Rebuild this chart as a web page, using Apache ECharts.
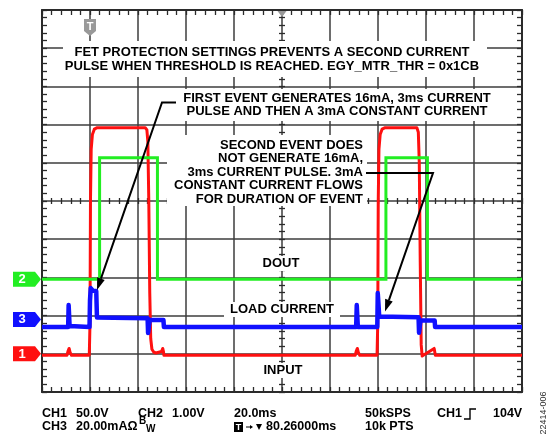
<!DOCTYPE html>
<html>
<head>
<meta charset="utf-8">
<script src="https://cdn.jsdelivr.net/npm/echarts@6/dist/echarts.min.js"></script>
<style>
  html, body { margin: 0; padding: 0; background: #fff; }
  #scope { width: 553px; height: 440px; }
</style>
</head>
<body>
<div id="scope"></div>
<script>
// Scope channel scales: units per division and ground-marker position (divisions from bottom)
const ch1Scale = { perDiv: 50, zeroDiv: 1.0 };   // INPUT, volts
const ch2Scale = { perDiv: 1, zeroDiv: 2.95 };   // DOUT, volts
const ch3Scale = { perDiv: 20, zeroDiv: 1.9 };   // LOAD CURRENT, mA

// Horizontal: 20 ms/div over 10 divisions
const timeRange = [0, 200];
const timePerDiv = 20;
const triggerTime = 20;      // CH1 rising edge
const centerTime = 100;      // trigger offset reference

// CH1 INPUT trace [ms, V]
const inputTrace = [
  [0, -2], [10.4, -2], [10.9, 4], [11.3, 7], [11.7, 2], [12.3, -2],
  [19.7, -2], [20.0, 40], [20.2, 200], [20.5, 268], [21.0, 287], [21.8, 294], [23, 296],
  [43.0, 296], [43.7, 293], [44.1, 278], [44.5, 200], [44.9, 80], [45.3, 20], [45.8, 6],
  [46.6, 2], [47.5, 1], [49.8, 3], [50.3, 7], [50.6, 3], [50.8, -2],
  [130.5, -2], [131.0, 4], [131.4, 7], [131.8, 2], [132.4, -2],
  [139.6, -2], [139.9, 40], [140.1, 200], [140.4, 268], [140.9, 287], [141.7, 294], [143, 296],
  [156.2, 296], [156.8, 290], [157.2, 250], [157.6, 120], [158.0, 12], [158.4, -3],
  [163.4, 7], [163.7, 8], [163.9, -2], [200, -2]
];

// CH2 DOUT trace [ms, V]
const doutTrace = [
  [0, 0], [24.0, 0], [24.0, 3.18], [48.1, 3.18], [48.1, 0],
  [143.3, 0], [143.3, 3.18], [160.6, 3.18], [160.6, 0], [200, 0]
];

// CH3 LOAD CURRENT trace [ms, mA]
const loadTrace = [
  [0, -4], [10.9, -4], [11.1, 7.5], [11.35, 7.5], [11.5, -3.5], [11.8, -4],
  [19.8, -4], [20.0, 10], [20.3, 16.4], [20.9, 16.0], [21.2, 15], [22.6, 14.9], [22.9, 1],
  [44.0, 0.6], [44.2, -7.1], [44.6, -7], [44.9, -0.3], [50.6, -0.3], [50.8, -4],
  [130.9, -4], [131.15, 7.5], [131.4, 7.5], [131.6, -4],
  [139.7, -4], [139.9, 13.8], [140.2, 8], [140.5, 1.5], [141.0, 1.1],
  [156.9, 1.1], [157.1, -7], [157.5, -6], [157.7, -0.5], [163.6, -0.5], [163.8, -4], [200, -4]
];

// Readout text
const readoutRow1 = [
  { x: 42, text: 'CH1' }, { x: 76, text: '50.0V' },
  { x: 138, text: 'CH2' }, { x: 172, text: '1.00V' },
  { x: 234, text: '20.0ms' }, { x: 365, text: '50kSPS' },
  { x: 437, text: 'CH1' }, { x: 493, text: '104V' }
];
const readoutRow2 = [
  { x: 42, text: 'CH3' }, { x: 76, text: '20.00mAΩ' },
  { x: 266, text: '80.26000ms' }, { x: 365, text: '10k PTS' }
];

const FONT = 'Liberation Sans, Arial, Helvetica, sans-serif';
const FRAME = '#2b2b2b';
const GRIDLINE = '#3c3c3c';
const RED = '#ff1010';
const GREEN = '#22ee22';
const BLUE = '#1010ff';

function chAxis(scale) {
  return {
    type: 'value', show: false,
    min: -scale.zeroDiv * scale.perDiv,
    max: (10 - scale.zeroDiv) * scale.perDiv
  };
}

function tickAxis(extra) {
  return Object.assign({
    type: 'value',
    axisLabel: { show: false },
    axisLine: { show: false },
    splitLine: { show: false },
    axisTick: { show: true, inside: true, length: 3, lineStyle: { color: FRAME, width: 1.3 } },
    minorTick: { show: true, splitNumber: 5, length: 3, lineStyle: { color: FRAME, width: 1.3 } }
  }, extra);
}

function frameAxis(extra) {
  return Object.assign({
    type: 'value',
    axisLabel: { show: false },
    axisLine: { show: true, onZero: false, lineStyle: { color: FRAME, width: 2 } },
    splitLine: { show: false },
    axisTick: { show: true, inside: true, length: 5, lineStyle: { color: FRAME, width: 1.3 } },
    minorTick: { show: true, splitNumber: 5, length: 5, lineStyle: { color: FRAME, width: 1.3 } }
  }, extra);
}

const chart = echarts.init(document.getElementById('scope'), null, { renderer: 'canvas' });

chart.setOption({
  animation: false,
  backgroundColor: '#fff',
  grid: { left: 42, top: 10, width: 480, height: 382, containLabel: false },
  xAxis: [
    frameAxis({ position: 'bottom', min: timeRange[0], max: timeRange[1], interval: timePerDiv,
      splitLine: { show: true, lineStyle: { color: GRIDLINE, width: 1.5 } } }),
    frameAxis({ position: 'top', min: timeRange[0], max: timeRange[1], interval: timePerDiv }),
    tickAxis({ position: 'bottom', offset: -191, min: timeRange[0], max: timeRange[1], interval: timePerDiv }),
    tickAxis({ position: 'bottom', offset: -191, min: timeRange[0], max: timeRange[1], interval: timePerDiv,
      axisTick: { show: true, inside: false, length: 3, lineStyle: { color: FRAME, width: 1.3 } } })
  ],
  yAxis: [
    frameAxis({ position: 'left', min: 0, max: 10, interval: 1,
      splitLine: { show: true, lineStyle: { color: GRIDLINE, width: 1.5 } } }),
    frameAxis({ position: 'right', min: 0, max: 10, interval: 1 }),
    tickAxis({ position: 'left', offset: -240, min: 0, max: 10, interval: 1 }),
    tickAxis({ position: 'left', offset: -240, min: 0, max: 10, interval: 1,
      axisTick: { show: true, inside: false, length: 3, lineStyle: { color: FRAME, width: 1.3 } } }),
    chAxis(ch1Scale),
    chAxis(ch2Scale),
    chAxis(ch3Scale)
  ],
  series: [
    { name: 'CH1', type: 'line', xAxisIndex: 0, yAxisIndex: 4, data: inputTrace,
      showSymbol: false, z: 3, lineStyle: { color: RED, width: 3, join: 'round' } },
    { name: 'CH2', type: 'line', xAxisIndex: 0, yAxisIndex: 5, data: doutTrace,
      showSymbol: false, z: 4, lineStyle: { color: GREEN, width: 3, join: 'miter' } },
    { name: 'CH3', type: 'line', xAxisIndex: 0, yAxisIndex: 6, data: loadTrace,
      showSymbol: false, z: 5, lineStyle: { color: BLUE, width: 4.5, join: 'round' } }
  ]
});

// ---- overlay: annotations, channel markers, readout ----
const px = (xi, v) => chart.convertToPixel({ xAxisIndex: xi }, v);
const py = (yi, v) => chart.convertToPixel({ yAxisIndex: yi }, v);

function txt(x, y, text, size, align, color, extra) {
  return Object.assign({
    type: 'text', x: x, y: y, z: 60,
    style: { text: text, font: 'bold ' + size + 'px ' + FONT, fill: color || '#000',
             align: align || 'left', verticalAlign: 'middle' }
  }, extra || {});
}
function box(x, y, w, h) {
  return { type: 'rect', z: 55, shape: { x: x, y: y, width: w, height: h }, style: { fill: '#fff' } };
}
function leader(pts) {
  const n = pts.length;
  const tx = pts[n - 1][0], ty = pts[n - 1][1];
  const dx = pts[n - 2][0] - tx, dy = pts[n - 2][1] - ty;
  const L = Math.hypot(dx, dy), ux = dx / L, uy = dy / L;
  const len = 12, hw = 4;
  const bx = tx + ux * len, by = ty + uy * len;
  return [
    { type: 'polyline', z: 62, shape: { points: pts.slice(0, n - 1).concat([[bx, by]]) },
      style: { stroke: '#000', lineWidth: 2, fill: null } },
    { type: 'polygon', z: 62,
      shape: { points: [[tx, ty], [bx - uy * hw, by + ux * hw], [bx + uy * hw, by - ux * hw]] },
      style: { fill: '#000' } }
  ];
}
function chanMarker(label, y, color) {
  return [
    { type: 'polygon', z: 60,
      shape: { points: [[13, y - 7.5], [35, y - 7.5], [41, y], [35, y + 7.5], [13, y + 7.5]] },
      style: { fill: color } },
    txt(22, y + 0.5, label, 13, 'center', '#fff', { z: 61 })
  ];
}

const trigX = px(0, triggerTime);
const centerX = px(0, centerTime);
const topY = py(0, 10);

const g = [];
// trigger point and horizontal reference markers
g.push({ type: 'polygon', z: 60,
  shape: { points: [[trigX - 6, topY + 9], [trigX + 6, topY + 9], [trigX + 6, topY + 21], [trigX, topY + 26], [trigX - 6, topY + 21]] },
  style: { fill: '#999' } });
g.push(txt(trigX, topY + 16.5, 'T', 11, 'center', '#fff', { z: 61 }));
g.push({ type: 'polygon', z: 60,
  shape: { points: [[centerX - 4.5, topY + 1], [centerX + 4.5, topY + 1], [centerX, topY + 7]] },
  style: { fill: '#999' } });

// channel ground markers
g.push.apply(g, chanMarker('2', py(5, 0), GREEN));
g.push.apply(g, chanMarker('3', py(6, 0), BLUE));
g.push.apply(g, chanMarker('1', py(4, 0), RED));

// annotation boxes
g.push(box(63, 41, 424, 36));
g.push(txt(272, 52, 'FET PROTECTION SETTINGS PREVENTS A SECOND CURRENT', 13, 'center'));
g.push(txt(272, 66, 'PULSE WHEN THRESHOLD IS REACHED. EGY_MTR_THR = 0x1CB', 13, 'center'));

g.push(box(176, 89, 324, 32));
g.push(txt(337, 98, 'FIRST EVENT GENERATES 16mA, 3ms CURRENT', 13, 'center'));
g.push(txt(337, 111, 'PULSE AND THEN A 3mA CONSTANT CURRENT', 13, 'center'));

g.push(box(167, 135, 200, 71));
['SECOND EVENT DOES', 'NOT GENERATE 16mA,', '3ms CURRENT PULSE. 3mA',
 'CONSTANT CURRENT FLOWS', 'FOR DURATION OF EVENT'].forEach(function (s, i) {
  g.push(txt(363, 145 + i * 13.6, s, 13, 'right'));
});

g.push.apply(g, leader([[176, 102.5], [162, 102.5], [97, 290]]));
g.push.apply(g, leader([[366, 173], [433, 173], [385, 311.5]]));

// trace labels
g.push(box(258, 256, 46, 15));
g.push(txt(281, 263.5, 'DOUT', 13, 'center'));
g.push(box(224, 302, 116, 15));
g.push(txt(282, 309.5, 'LOAD CURRENT', 13, 'center'));
g.push(box(259, 363, 48, 15));
g.push(txt(283, 370.5, 'INPUT', 13, 'center'));

// readout
readoutRow1.forEach(function (r) { g.push(txt(r.x, 414, r.text, 12.5, 'left')); });
readoutRow2.forEach(function (r) { g.push(txt(r.x, 427, r.text, 12.5, 'left')); });
g.push(txt(139, 421.5, 'B', 10, 'left'));
g.push(txt(146, 429.5, 'W', 10, 'left'));
// trigger-edge glyph after CH1
g.push({ type: 'polyline', z: 60, shape: { points: [[464, 419], [470, 419], [470, 409], [476, 409]] },
  style: { stroke: '#000', lineWidth: 1.4, fill: null } });
// trigger position readout icons
g.push({ type: 'rect', z: 60, shape: { x: 234, y: 422, width: 9, height: 10 }, style: { fill: '#000' } });
g.push(txt(238.5, 427.5, 'T', 9, 'center', '#fff', { z: 61 }));
g.push({ type: 'polyline', z: 60, shape: { points: [[246, 427], [251, 427]] }, style: { stroke: '#000', lineWidth: 1, fill: null } });
g.push({ type: 'polygon', z: 60, shape: { points: [[250, 425], [253, 427], [250, 429]] }, style: { fill: '#000' } });
g.push({ type: 'polygon', z: 60, shape: { points: [[256, 424], [262, 424], [259, 430]] }, style: { fill: '#000' } });

// figure id
g.push({ type: 'text', z: 60, x: 544, y: 413, rotation: Math.PI / 2,
  style: { text: '22414-006', font: '9px ' + FONT, fill: '#333', align: 'center', verticalAlign: 'middle' } });

chart.setOption({ graphic: { elements: g } });
</script>
</body>
</html>
